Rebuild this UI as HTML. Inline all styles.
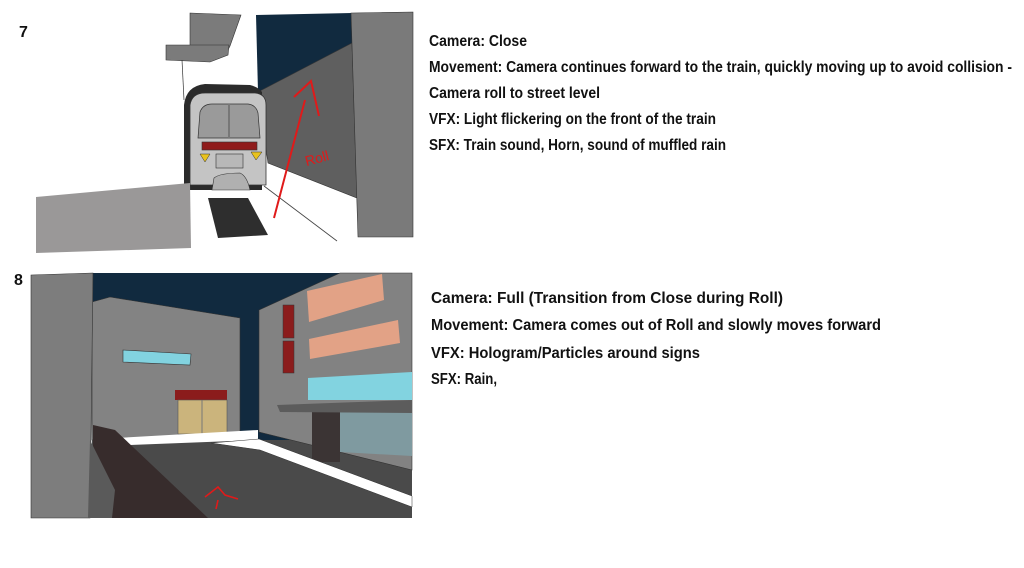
<!DOCTYPE html>
<html><head><meta charset="utf-8"><style>
html,body{margin:0;padding:0;background:#fff;width:1024px;height:568px;overflow:hidden}
svg{display:block}
text{font-family:"Liberation Sans",sans-serif;fill:#111}
</style></head><body>
<svg width="1024" height="568" viewBox="0 0 1024 568" xmlns="http://www.w3.org/2000/svg">
<!-- Panel 7 -->
<text x="19" y="37" font-size="16" font-weight="bold">7</text>
<polygon points="256,15 352,13 352,43 258,92" fill="#112a3f"/>
<polygon points="258,92 352,43 357,198 268,163" fill="#5f5f5f" stroke="#333" stroke-width="0.6"/>
<polygon points="351,13 413,12 413,237 358,237" fill="#7a7a7a" stroke="#333" stroke-width="0.6"/>
<polygon points="190,13 241,15 230,46 226,54 190,55" fill="#7b7b7b" stroke="#333" stroke-width="0.6"/>
<polygon points="166,45 229,45 228,55 210,62 166,60" fill="#7b7b7b" stroke="#333" stroke-width="0.6"/>
<line x1="182" y1="60" x2="184" y2="100" stroke="#333" stroke-width="0.7"/>
<polygon points="208,198 248,198 268,235 218,238" fill="#2e2e2e"/>
<line x1="264" y1="186" x2="337" y2="241" stroke="#444" stroke-width="0.8"/>
<path d="M184,190 L184,105 Q186,86 205,84 L250,85 Q258,87 262,92 L262,190 Z" fill="#2b2b2b"/>
<path d="M190,185 L190,105 Q192,93 205,93 L255,93 Q266,94 266,105 L266,185 Z" fill="#c4c4c4" stroke="#333" stroke-width="0.8"/>
<path d="M198,138 L200,112 Q203,104 212,104 L248,104 Q256,105 258,113 L260,138 Z" fill="#9a9a9a" stroke="#333" stroke-width="0.7"/>
<line x1="229" y1="104" x2="229" y2="138" stroke="#777" stroke-width="2"/>
<rect x="202" y="142" width="55" height="8" fill="#8f1b1b" stroke="#333" stroke-width="0.6"/>
<polygon points="200,154 210,154 205,162" fill="#e8c21e" stroke="#333" stroke-width="0.5"/>
<polygon points="251,152 262,152 256,160" fill="#e8c21e" stroke="#333" stroke-width="0.5"/>
<rect x="216" y="154" width="27" height="14" fill="#b8b8b8" stroke="#333" stroke-width="0.6"/>
<path d="M212,190 L214,178 Q220,173 240,173 Q247,176 250,190 Z" fill="#b0b0b0" stroke="#333" stroke-width="0.6"/>
<polygon points="36,197 190,183 191,248 36,253" fill="#9a9898"/>
<path d="M274,218 L305,100 M294,97 L311,81 L319,116" fill="none" stroke="#e01a1a" stroke-width="2"/>
<text x="305" y="165" font-size="14" style="fill:#e01a1a" transform="rotate(-15 310 160)">Roll</text>
<!-- Panel 8 -->
<text x="14" y="285" font-size="16" font-weight="bold">8</text>
<rect x="92" y="273" width="248" height="170" fill="#112a3f"/>
<polygon points="92,302 110,297 240,318 240,440 92,440" fill="#838383" stroke="#333" stroke-width="0.6"/>
<polygon points="123,350 191,354 190,365 123,362" fill="#82d3e0" stroke="#333" stroke-width="0.6"/>
<rect x="175" y="390" width="52" height="10" fill="#8b1c1c"/>
<rect x="178" y="400" width="49" height="34" fill="#cbb47c" stroke="#555" stroke-width="0.6"/>
<line x1="202" y1="400" x2="202" y2="434" stroke="#777"/>
<rect x="92" y="440" width="320" height="78" fill="#4a4a4a"/>
<polygon points="117,438 258,430 258,440 130,445" fill="#fff"/>
<polygon points="259,310 340,273 412,273 412,470 259,432" fill="#828282" stroke="#333" stroke-width="0.6"/>
<polygon points="307,291 382,274 384,300 309,322" fill="#e2a286"/>
<polygon points="309,339 398,320 400,343 310,359" fill="#e2a286"/>
<rect x="283" y="305" width="11" height="33" fill="#8b1c1c" stroke="#333" stroke-width="0.5"/>
<rect x="283" y="341" width="11" height="32" fill="#8b1c1c" stroke="#333" stroke-width="0.5"/>
<polygon points="308,378 412,372 412,400 308,400" fill="#82d3e0"/>
<rect x="312" y="412" width="28" height="50" fill="#3b3434"/>
<polygon points="340,412 412,412 412,456 340,452" fill="#7f9aa0"/>
<polygon points="277,405 412,400 412,413 280,412" fill="#5c5c5c"/>
<polygon points="211,443 259,439 412,496 412,507 260,450" fill="#fff" stroke="#333" stroke-width="0.5"/>
<polygon points="31,275 93,273 90,518 31,518" fill="#7d7d7d" stroke="#333" stroke-width="0.6"/>
<polygon points="93,425 115,430 208,518 93,518" fill="#372c2c"/>
<polygon points="90,440 115,490 112,518 88,518" fill="#5a5a5a"/>
<path d="M218,500 L216,509 M205,497 L218,487 L225,495 L238,499" fill="none" stroke="#e01a1a" stroke-width="1.6"/>
<!-- Text -->
<g font-size="16" font-weight="bold">
<text x="429" y="46" textLength="98" lengthAdjust="spacingAndGlyphs">Camera: Close</text>
<text x="429" y="72" textLength="583" lengthAdjust="spacingAndGlyphs">Movement: Camera continues forward to the train, quickly moving up to avoid collision -</text>
<text x="429" y="98" textLength="171" lengthAdjust="spacingAndGlyphs">Camera roll to street level</text>
<text x="429" y="124" textLength="287" lengthAdjust="spacingAndGlyphs">VFX: Light flickering on the front of the train</text>
<text x="429" y="150" textLength="297" lengthAdjust="spacingAndGlyphs">SFX: Train sound, Horn, sound of muffled rain</text>
<text x="431" y="303" textLength="352" lengthAdjust="spacingAndGlyphs">Camera: Full (Transition from Close during Roll)</text>
<text x="431" y="330" textLength="450" lengthAdjust="spacingAndGlyphs">Movement: Camera comes out of Roll and slowly moves forward</text>
<text x="431" y="358" textLength="269" lengthAdjust="spacingAndGlyphs">VFX: Hologram/Particles around signs</text>
<text x="431" y="384" textLength="66" lengthAdjust="spacingAndGlyphs">SFX: Rain,</text>
</g>
</svg>
</body></html>
